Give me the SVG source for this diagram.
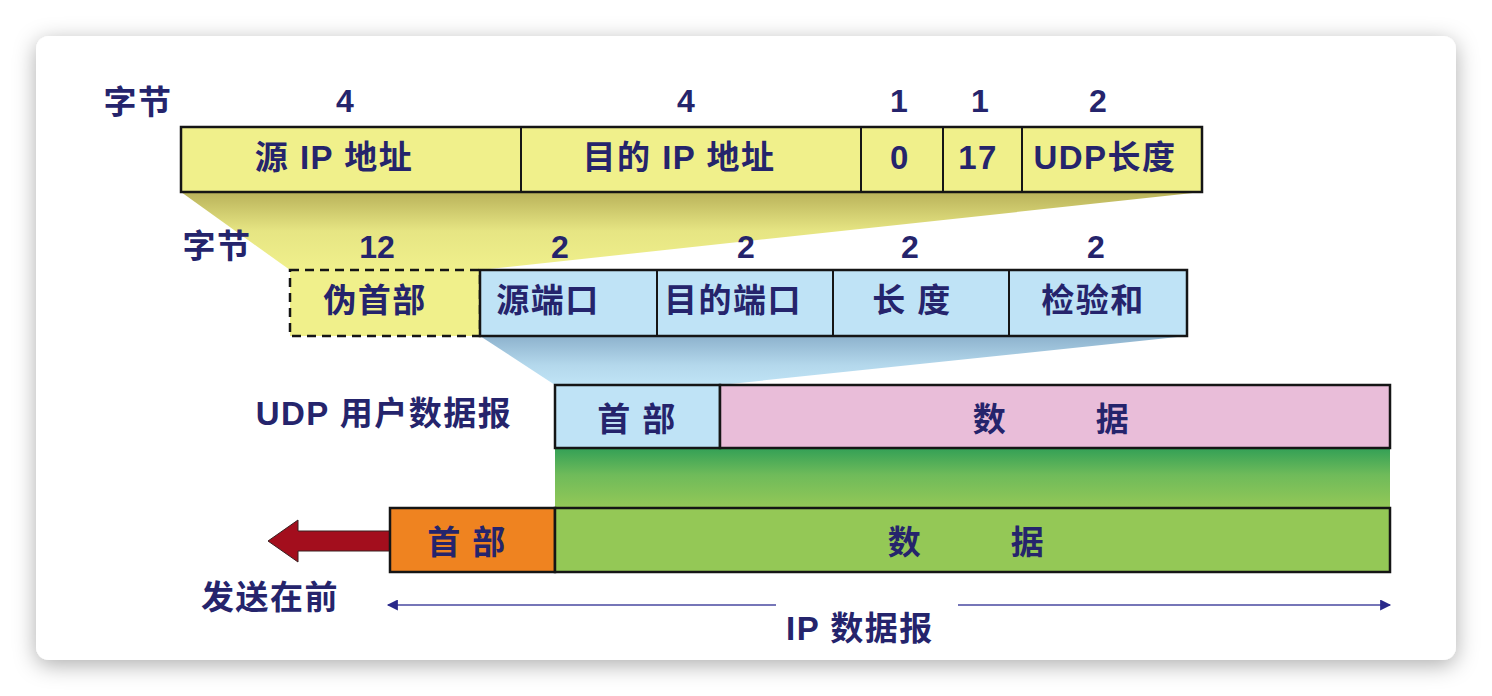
<svg xmlns="http://www.w3.org/2000/svg" width="1492" height="696" viewBox="0 0 1492 696">
<defs>
<filter id="cardShadow" x="-10%" y="-10%" width="120%" height="125%">
<feDropShadow dx="0" dy="5" stdDeviation="11" flood-color="#000" flood-opacity="0.32"/>
</filter>
<linearGradient id="yellowFan" x1="0" y1="192" x2="0" y2="270" gradientUnits="userSpaceOnUse">
<stop offset="0" stop-color="#b9b25a"/>
<stop offset="0.5" stop-color="#e6e583"/>
<stop offset="1" stop-color="#f0f08c"/>
</linearGradient>
<linearGradient id="blueFan" x1="0" y1="336" x2="0" y2="385" gradientUnits="userSpaceOnUse">
<stop offset="0" stop-color="#8db2cd"/>
<stop offset="0.6" stop-color="#b4d8ec"/>
<stop offset="1" stop-color="#c0e4f6"/>
</linearGradient>
<linearGradient id="greenBand" x1="0" y1="448" x2="0" y2="508" gradientUnits="userSpaceOnUse">
<stop offset="0" stop-color="#33a056"/>
<stop offset="0.45" stop-color="#6fbb5a"/>
<stop offset="1" stop-color="#94c857"/>
</linearGradient>
<marker id="ah" viewBox="0 0 10 10" refX="9" refY="5" markerWidth="17" markerHeight="11" markerUnits="userSpaceOnUse" orient="auto-start-reverse">
<path d="M0,0 L10,5 L0,10 Z" fill="#29288a"/>
</marker>
</defs>
<style>
.t{font-family:"Liberation Sans","Noto Sans CJK SC",sans-serif;font-weight:bold;fill:#25246c;text-anchor:middle}
.lbl{font-size:33px;letter-spacing:1.5px}
.num{font-size:32px}
.box{stroke:#151515;stroke-width:2.5}
.div{stroke:#151515;stroke-width:2}
.yel{fill:#f0f08b}
.blu{fill:#bfe3f6}
</style>
<rect x="0" y="0" width="1492" height="696" fill="#ffffff"/>
<rect x="36" y="36" width="1420" height="624" rx="13" fill="#ffffff" filter="url(#cardShadow)"/>

<g id="connectors">
<polygon points="181,192 1202,192 480,270 290,270" fill="url(#yellowFan)"/>
<polygon points="480,336 1187,336 720,385 555,385" fill="url(#blueFan)"/>
<rect x="555" y="448" width="835" height="60" fill="url(#greenBand)"/>
<polygon points="268,541 298,520 298,531 390,531 390,551 298,551 298,562" fill="#a30e1d" stroke="#3a2020" stroke-width="1"/>
<line x1="388" y1="605" x2="776" y2="605" stroke="#7676b8" stroke-width="2" marker-start="url(#ah)"/>
<line x1="958" y1="605" x2="1390" y2="605" stroke="#7676b8" stroke-width="2" marker-end="url(#ah)"/>
</g>

<g id="ip-pseudo-header">
<text class="t lbl" x="138" y="114">字节</text>
<text class="t num" x="345" y="112">4</text>
<text class="t num" x="686" y="112">4</text>
<text class="t num" x="899" y="112">1</text>
<text class="t num" x="980" y="112">1</text>
<text class="t num" x="1098" y="112">2</text>
<rect class="box yel" x="181" y="127" width="1021" height="65"/>
<line class="div" x1="521" y1="127" x2="521" y2="192"/>
<line class="div" x1="861" y1="127" x2="861" y2="192"/>
<line class="div" x1="943" y1="127" x2="943" y2="192"/>
<line class="div" x1="1022" y1="127" x2="1022" y2="192" stroke="#555"/>
<text class="t lbl" x="334" y="169">源 IP 地址</text>
<text class="t lbl" x="679" y="169">目的 IP 地址</text>
<text class="t lbl" x="900" y="169">0</text>
<text class="t lbl" x="978" y="169">17</text>
<text class="t lbl" x="1105" y="169">UDP长度</text>
</g>

<g id="udp-header">
<text class="t lbl" x="217" y="258">字节</text>
<text class="t num" x="377" y="258">12</text>
<text class="t num" x="560" y="258">2</text>
<text class="t num" x="746" y="258">2</text>
<text class="t num" x="910" y="258">2</text>
<text class="t num" x="1096" y="258">2</text>
<rect class="yel" x="290" y="270" width="190" height="66" stroke="#151515" stroke-width="2.5" stroke-dasharray="9,6"/>
<rect class="box blu" x="480" y="270" width="707" height="66"/>
<line class="div" x1="657" y1="270" x2="657" y2="336"/>
<line class="div" x1="833" y1="270" x2="833" y2="336"/>
<line class="div" x1="1009" y1="270" x2="1009" y2="336" stroke="#555"/>
<text class="t lbl" x="375" y="312">伪首部</text>
<text class="t lbl" x="548" y="312">源端口</text>
<text class="t lbl" x="733" y="312">目的端口</text>
<text class="t lbl" x="912" y="312">长 度</text>
<text class="t lbl" x="1093" y="312">检验和</text>
</g>

<g id="udp-datagram">
<text class="t lbl" x="384" y="425">UDP 用户数据报</text>
<rect class="box blu" x="555" y="385" width="165" height="63"/>
<rect class="box" x="720" y="385" width="670" height="63" fill="#e9bdd9"/>
<text class="t lbl" x="637" y="431">首 部</text>
<text class="t lbl"><tspan x="990" y="431">数</tspan><tspan x="1113" y="431">据</tspan></text>
</g>

<g id="ip-datagram">
<rect class="box" x="390" y="508" width="165" height="64" fill="#ef8320"/>
<rect class="box" x="555" y="508" width="835" height="64" fill="#94c856"/>
<text class="t lbl" x="467" y="554">首 部</text>
<text class="t lbl"><tspan x="905" y="554">数</tspan><tspan x="1028" y="554">据</tspan></text>
<text class="t lbl" x="270" y="609">发送在前</text>
<text class="t lbl" x="860" y="640">IP 数据报</text>
</g>
</svg>
